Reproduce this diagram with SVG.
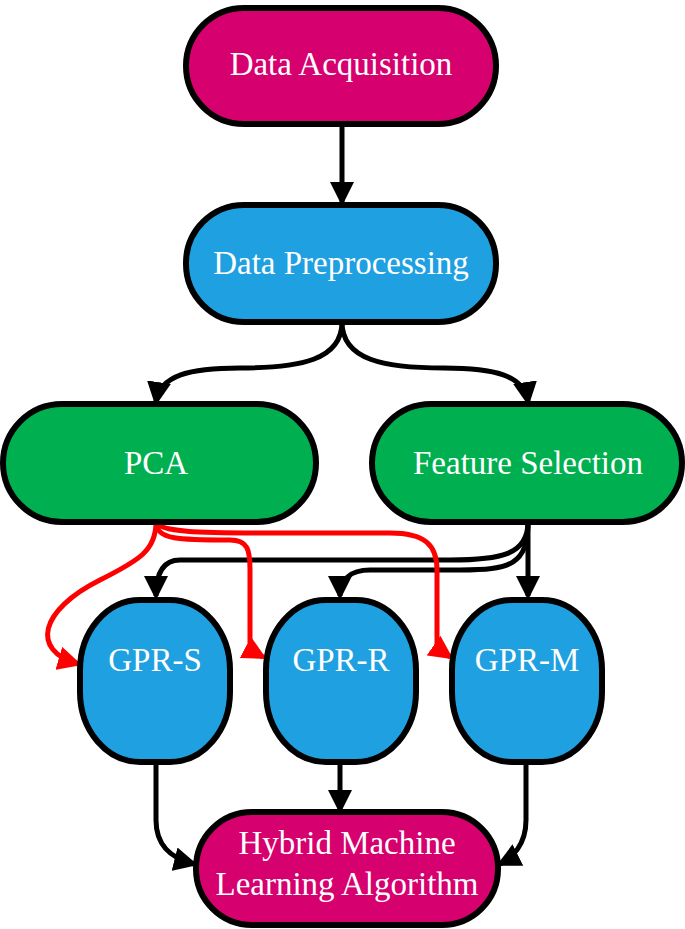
<svg xmlns="http://www.w3.org/2000/svg" width="685" height="929" viewBox="0 0 685 929">
<defs>
<style>
.n{stroke:#000;stroke-width:6}
.m{fill:#d6006f}.b{fill:#1fa0e0}.g{fill:#00b050}
text{font-family:"Liberation Serif",serif;font-size:33px;fill:#fff;text-anchor:middle;dominant-baseline:central}
.k{fill:none;stroke:#000;stroke-width:5}
.r{fill:none;stroke:#f00;stroke-width:5}
</style>
<marker id="bk" markerWidth="24" markerHeight="24" refX="20" refY="12" orient="auto" markerUnits="userSpaceOnUse" viewBox="0 0 24 24"><path d="M0,0 L24,12 L0,24 z" fill="#000"/></marker>
<marker id="rd" markerWidth="24" markerHeight="24" refX="20" refY="12" orient="auto" markerUnits="userSpaceOnUse" viewBox="0 0 24 24"><path d="M0,0 L24,12 L0,24 z" fill="#f00"/></marker>
</defs>
<g id="connectors">
<path class="k" marker-end="url(#bk)" d="M342,124 V202"/>
<path class="k" marker-end="url(#bk)" d="M342,322 C342,360 300,368 240,368 C190,368 160,375 156,402"/>
<path class="k" marker-end="url(#bk)" d="M342,322 C342,360 384,368 444,368 C494,368 524,375 528,402"/>
<path class="k" marker-end="url(#bk)" d="M528,522 V596"/>
<path class="k" marker-end="url(#bk)" d="M528,522 C528,555 500,560 450,560 L180,560 C165,560 156,570 156,596"/>
<path class="k" marker-end="url(#bk)" d="M528,522 C528,565 510,570 460,570 L370,570 C350,570 340,580 340,596"/>
<path class="r" marker-end="url(#rd)" d="M156,522 C156,550 140,560 100,580 C40,610 30,650 78,664"/>
<path class="r" marker-end="url(#rd)" d="M156,522 C156,540 180,540 230,540 C248,540 250,550 250,570 V650 L263,657"/>
<path class="r" marker-end="url(#rd)" d="M156,522 C160,532 200,533 260,533 L390,533 C425,533 437,545 437,570 V648 L450,657"/>
<path class="k" marker-end="url(#bk)" d="M156,762 V820 C156,845 170,858 194,864"/>
<path class="k" marker-end="url(#bk)" d="M340,762 V810"/>
<path class="k" marker-end="url(#bk)" d="M526,762 V820 C526,845 512,858 500,864"/>
</g>
<g id="n1"><rect class="n m" x="186" y="8" width="310" height="116" rx="58"/><text x="341" y="64">Data Acquisition</text></g>
<g id="n2"><rect class="n b" x="186" y="205" width="310" height="117" rx="58"/><text x="341" y="263">Data Preprocessing</text></g>
<g id="n3"><rect class="n g" x="3" y="404" width="313" height="118" rx="59"/><text x="156" y="463">PCA</text></g>
<g id="n4"><rect class="n g" x="372" y="404" width="310" height="118" rx="59"/><text x="528" y="463">Feature Selection</text></g>
<g id="n5"><rect class="n b" x="80" y="600" width="150" height="162" rx="60" ry="70"/><text x="155" y="660">GPR-S</text></g>
<g id="n6"><rect class="n b" x="266" y="600" width="150" height="162" rx="60" ry="70"/><text x="341" y="660">GPR-R</text></g>
<g id="n7"><rect class="n b" x="452" y="600" width="150" height="162" rx="60" ry="70"/><text x="527" y="660">GPR-M</text></g>
<g id="n8"><rect class="n m" x="196" y="812" width="302" height="113" rx="56"/><text x="347" y="843">Hybrid Machine</text><text x="347" y="884">Learning Algorithm</text></g>
</svg>
